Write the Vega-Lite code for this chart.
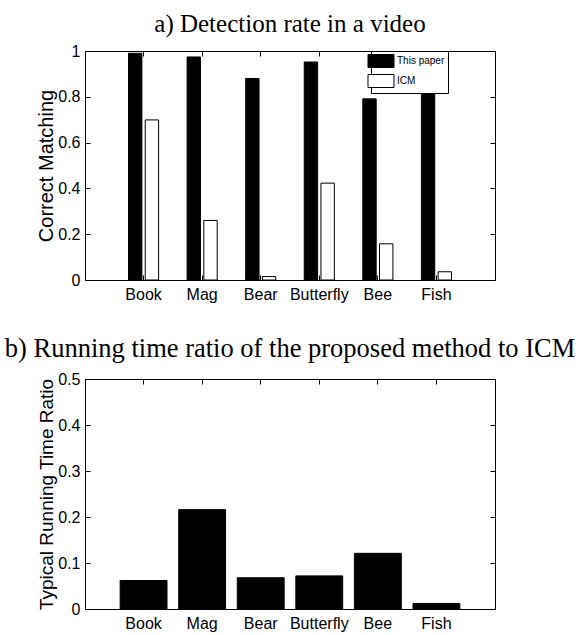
{
  "$schema": "https://vega.github.io/schema/vega-lite/v6.json",
  "padding": {"left": 4, "top": 11, "right": 5, "bottom": 5},
  "bounds": "flush",
  "spacing": 99,
  "config": {
    "view": {"stroke": "black", "strokeWidth": 1},
    "font": "Liberation Sans",
    "title": {"font": "Liberation Serif", "fontSize": 25, "fontWeight": "normal", "color": "black", "frame": "group"},
    "axis": {
      "labelFont": "Liberation Sans", "labelFontSize": 16, "labelColor": "black",
      "titleFont": "Liberation Sans", "titleFontSize": 20, "titleFontWeight": "normal", "titleColor": "black",
      "domain": false, "grid": false, "tickColor": "black", "tickSize": -5, "labelPadding": 10
    }
  },
  "datasets": {
    "detection": [
      {"object": "Book", "method": "This paper", "rate": 0.99},
      {"object": "Book", "method": "ICM", "rate": 0.699},
      {"object": "Mag", "method": "This paper", "rate": 0.974},
      {"object": "Mag", "method": "ICM", "rate": 0.26},
      {"object": "Bear", "method": "This paper", "rate": 0.88},
      {"object": "Bear", "method": "ICM", "rate": 0.015},
      {"object": "Butterfly", "method": "This paper", "rate": 0.952},
      {"object": "Butterfly", "method": "ICM", "rate": 0.423},
      {"object": "Bee", "method": "This paper", "rate": 0.791},
      {"object": "Bee", "method": "ICM", "rate": 0.158},
      {"object": "Fish", "method": "This paper", "rate": 0.952},
      {"object": "Fish", "method": "ICM", "rate": 0.036}
    ],
    "ratio": [
      {"object": "Book", "ratio": 0.062},
      {"object": "Mag", "ratio": 0.216},
      {"object": "Bear", "ratio": 0.068},
      {"object": "Butterfly", "ratio": 0.072},
      {"object": "Bee", "ratio": 0.121},
      {"object": "Fish", "ratio": 0.012}
    ]
  },
  "vconcat": [
    {
      "title": {"text": "a) Detection rate in a video", "offset": 6},
      "width": 410,
      "height": 229,
      "data": {"name": "detection"},
      "layer": [
        {
          "mark": {"type": "bar", "stroke": "black", "strokeWidth": 1},
          "encoding": {
            "x": {"field": "object", "type": "nominal", "sort": ["Book", "Mag", "Bear", "Butterfly", "Bee", "Fish"],
              "scale": {"paddingInner": 0.429, "paddingOuter": 0.7145},
              "axis": {"title": null, "labelAngle": 0, "bandPosition": 0.5, "orient": "bottom", "labelPadding": 11}},
            "xOffset": {"field": "method", "type": "nominal", "sort": ["This paper", "ICM"],
              "scale": {"paddingInner": 0.2, "paddingOuter": 0.1}},
            "y": {"field": "rate", "type": "quantitative", "scale": {"domain": [0, 1], "nice": false},
              "axis": {"title": "Correct Matching", "values": [0, 0.2, 0.4, 0.6, 0.8, 1], "format": ".1~f", "orient": "left", "titlePadding": 1}},
            "fill": {"field": "method", "type": "nominal", "sort": ["This paper", "ICM"],
              "scale": {"domain": ["This paper", "ICM"], "range": ["black", "white"]},
              "legend": {"title": null, "orient": "none", "legendX": 286, "legendY": 0,
                "strokeColor": "black", "fillColor": "white", "padding": 3,
                "labelFont": "Liberation Sans", "labelFontSize": 10, "labelColor": "black", "labelOffset": 9,
                "symbolType": "M-2,-1H2V1H-2Z", "symbolSize": 169, "rowPadding": 2,
                "symbolStrokeColor": "black", "symbolStrokeWidth": 1,
                "encode": {"symbols": {"update": {"stroke": {"value": "black"}, "strokeWidth": {"value": 1}}}}}}
          }
        },
        {
          "mark": {"type": "bar", "opacity": 0},
          "encoding": {
            "x": {"field": "object", "type": "nominal", "sort": ["Book", "Mag", "Bear", "Butterfly", "Bee", "Fish"],
              "scale": {"paddingInner": 0.429, "paddingOuter": 0.7145},
              "axis": {"title": null, "labels": false, "bandPosition": 0.5, "orient": "top"}},
            "y": {"field": "rate", "type": "quantitative", "stack": null, "scale": {"domain": [0, 1], "nice": false},
              "axis": {"title": null, "labels": false, "values": [0, 0.2, 0.4, 0.6, 0.8, 1], "orient": "right"}}
          }
        }
      ],
      "resolve": {"axis": {"x": "independent", "y": "independent"}}
    },
    {
      "title": {"text": "b) Running time ratio of the proposed method to ICM", "offset": 9, "fontSize": 26.5},
      "width": 410,
      "height": 230,
      "data": {"name": "ratio"},
      "layer": [
        {
          "mark": {"type": "bar", "fill": "black", "stroke": "black", "strokeWidth": 1},
          "encoding": {
            "x": {"field": "object", "type": "nominal", "sort": ["Book", "Mag", "Bear", "Butterfly", "Bee", "Fish"],
              "scale": {"paddingInner": 0.2, "paddingOuter": 0.6},
              "axis": {"title": null, "labelAngle": 0, "bandPosition": 0.5, "orient": "bottom", "labelPadding": 11}},
            "y": {"field": "ratio", "type": "quantitative", "scale": {"domain": [0, 0.5], "nice": false},
              "axis": {"title": "Typical Running Time Ratio", "titleFontSize": 19, "values": [0, 0.1, 0.2, 0.3, 0.4, 0.5], "format": ".1~f", "orient": "left", "titlePadding": 1}}
          }
        },
        {
          "mark": {"type": "bar", "opacity": 0},
          "encoding": {
            "x": {"field": "object", "type": "nominal", "sort": ["Book", "Mag", "Bear", "Butterfly", "Bee", "Fish"],
              "scale": {"paddingInner": 0.2, "paddingOuter": 0.6},
              "axis": {"title": null, "labels": false, "bandPosition": 0.5, "orient": "top"}},
            "y": {"field": "ratio", "type": "quantitative", "scale": {"domain": [0, 0.5], "nice": false},
              "axis": {"title": null, "labels": false, "values": [0, 0.1, 0.2, 0.3, 0.4, 0.5], "orient": "right"}}
          }
        }
      ],
      "resolve": {"axis": {"x": "independent", "y": "independent"}}
    }
  ]
}
